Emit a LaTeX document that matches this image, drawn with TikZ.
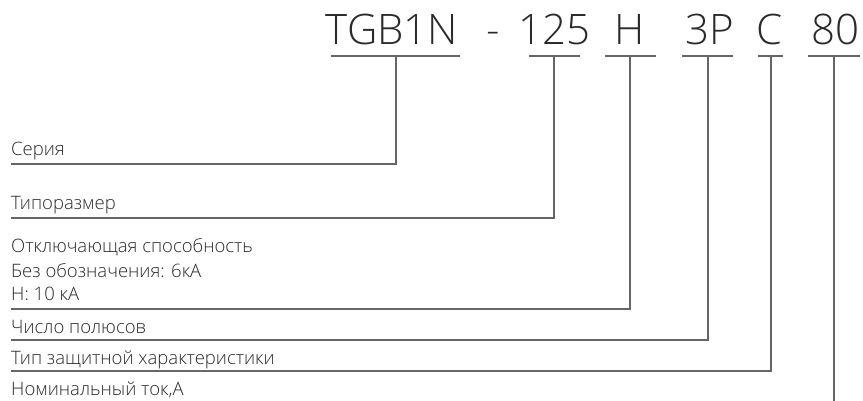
\documentclass[tikz,border=0pt]{standalone}
\usepackage{fontspec}
\setmainfont{Open Sans}[UprightFont=* Light]
\definecolor{txt}{HTML}{2A2A2A}
\definecolor{lnc}{HTML}{666666}
\begin{document}
\begin{tikzpicture}[x=1pt,y=-1pt,
  code/.style={font=\fontsize{42}{42}\selectfont, text=txt, inner sep=0pt, anchor=base},
  lbl/.style={font=\fontsize{18.5}{18.5}\selectfont, text=txt, inner sep=0pt, anchor=base west},
  ln/.style={draw=lnc, line width=1.1pt}]
\useasboundingbox (0,0) rectangle (863,401);
% code parts
\node[code] (c1) at (392,45) {TGB1N};
\node[code] (cd) at (493,45) {-};
\node[code] (c2) at (554,45) {125};
\node[code] (c3) at (630,45) {H};
\node[code] (c4) at (710,45) {3P};
\node[code] (c5) at (770,45) {C};
\node[code] (c6) at (835,45) {80};
% underlines
\draw[ln] (331,56) -- (460,56);
\draw[ln] (529,56) -- (580,56);
\draw[ln] (605,56) -- (656,56);
\draw[ln] (682,56) -- (733,56);
\draw[ln] (758,56) -- (783,56);
\draw[ln] (808,56) -- (860,56);
% tap points
\coordinate (t1) at (396,56);
\coordinate (t2) at (554,56);
\coordinate (t3) at (630,56);
\coordinate (t4) at (708,56);
\coordinate (t5) at (771,56);
\coordinate (t6) at (834,56);
% labels
\node[lbl] (l1) at (11,156) {Серия};
\node[lbl] (l2) at (11,210) {Типоразмер};
\node[lbl] (l3a) at (11,253) {Отключающая способность};
\node[lbl] (l3b) at (11,277) {Без обозначения: 6кА};
\node[lbl] (l3c) at (11,300) {H: 10 кА};
\node[lbl] (l4) at (11,333) {Число полюсов};
\node[lbl] (l5) at (11,364) {Тип защитной характеристики};
\node[lbl] (l6) at (11,395) {Номинальный ток,А};
% line ends
\coordinate (e1) at (11,164);
\coordinate (e2) at (11,218);
\coordinate (e3) at (11,309);
\coordinate (e4) at (11,340);
\coordinate (e5) at (11,371);
\coordinate (e6) at (834,401);
% connectors
\draw[ln] (t1) |- (e1);
\draw[ln] (t2) |- (e2);
\draw[ln] (t3) |- (e3);
\draw[ln] (t4) |- (e4);
\draw[ln] (t5) |- (e5);
\draw[ln] (t6) -- (e6);
\end{tikzpicture}
\end{document}
